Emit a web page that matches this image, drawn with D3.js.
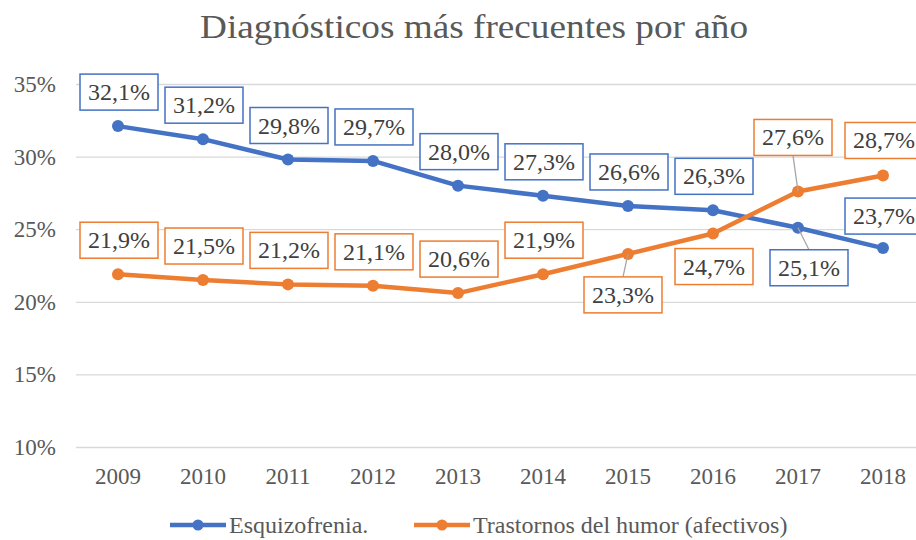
<!DOCTYPE html>
<head>
    <meta charset="UTF-8">
    <title>Diagnósticos</title>
</head>
<style>
    body { margin: 0; background: #fff; }
    .grid line { stroke: #d9d9d9; stroke-width: 1.3; }
    .grid .domain { display: none; }
</style>
<body>
<script src="https://cdnjs.cloudflare.com/ajax/libs/d3/7.8.5/d3.min.js"></script>
<script>
    // datos
    var years = ["2009", "2010", "2011", "2012", "2013", "2014", "2015", "2016", "2017", "2018"];
    var esquizofrenia = [32.1, 31.2, 29.8, 29.7, 28.0, 27.3, 26.6, 26.3, 25.1, 23.7];
    var humor = [21.9, 21.5, 21.2, 21.1, 20.6, 21.9, 23.3, 24.7, 27.6, 28.7];
    var yTicks = [10, 15, 20, 25, 30, 35];
    var seriesNames = ["Esquizofrenia.", "Trastornos del humor (afectivos)"];

    // colocación de etiquetas: [dx, dy] del centro de la caja respecto al punto
    var esqLabelPos = [[1,-34],[1,-34],[1,-34],[1,-34],[1,-34],[1,-34],[1,-34],[1,-34],[11,40],[1,-32]];
    var humLabelPos = [[1,-34],[1,-34],[1,-34],[1,-34],[1,-34],[1,-34],[-5,41],[1,33],[-5,-54],[1,-35]];

    var serif = "Liberation Serif";
    var ink = "#595959";

    var width = 916, height = 540;
    var svg = d3.select("body").append("svg")
        .attr("width", width)
        .attr("height", height);

    var x = d3.scalePoint()
        .domain(years)
        .range([118, 883]);

    var y = d3.scaleLinear()
        .domain([10, 35])
        .range([447, 84]);

    svg.append("text")
        .attr("x", 474)
        .attr("y", 38)
        .attr("text-anchor", "middle")
        .attr("font-family", serif)
        .attr("font-size", 33)
        .attr("textLength", 548)
        .attr("lengthAdjust", "spacingAndGlyphs")
        .attr("fill", ink)
        .text("Diagnósticos más frecuentes por año");

    svg.append("g")
        .attr("class", "grid")
        .attr("transform", "translate(76,0)")
        .call(d3.axisLeft(y).tickValues(yTicks).tickSize(-850).tickFormat(""));

    svg.append("g").selectAll("text")
        .data(yTicks)
        .enter().append("text")
        .attr("x", 56)
        .attr("y", function(d) { return y(d) + 8; })
        .attr("text-anchor", "end")
        .attr("font-family", serif)
        .attr("font-size", 23)
        .attr("fill", ink)
        .text(function(d) { return d + "%"; });

    svg.append("g").selectAll("text")
        .data(years)
        .enter().append("text")
        .attr("x", function(d) { return x(d); })
        .attr("y", 484)
        .attr("text-anchor", "middle")
        .attr("font-family", serif)
        .attr("font-size", 23)
        .attr("fill", ink)
        .text(function(d) { return d; });

    var line = d3.line()
        .x(function(d, i) { return x(years[i]); })
        .y(function(d) { return y(d); });

    var series = [
        {name: seriesNames[0], values: esquizofrenia, color: "#4472c4", pos: esqLabelPos},
        {name: seriesNames[1], values: humor, color: "#ed7d31", pos: humLabelPos}
    ];

    var fmt = function(v) { return v.toFixed(1).replace(".", ",") + "%"; };
    var bw = 78, bh = 36;

    series.forEach(function(s) {
        svg.append("path")
            .attr("d", line(s.values))
            .attr("fill", "none")
            .attr("stroke", s.color)
            .attr("stroke-width", 4.5)
            .attr("stroke-linejoin", "round");
        svg.append("g").selectAll("circle")
            .data(s.values)
            .enter().append("circle")
            .attr("cx", function(d, i) { return x(years[i]); })
            .attr("cy", function(d) { return y(d); })
            .attr("r", 6)
            .attr("fill", s.color);
    });

    // etiquetas de datos con líneas guía
    series.forEach(function(s) {
        var g = svg.append("g");
        s.values.forEach(function(v, i) {
            var px = x(years[i]), py = y(v);
            var cx = px + s.pos[i][0], cy = py + s.pos[i][1];
            var top = cy - bh / 2, bot = cy + bh / 2;
            var gap = s.pos[i][1] < 0 ? py - bot : top - py;
            if (gap > 19) {
                g.append("line")
                    .attr("x1", px).attr("y1", py)
                    .attr("x2", cx).attr("y2", s.pos[i][1] < 0 ? bot : top)
                    .attr("stroke", "#a6a6a6")
                    .attr("stroke-width", 1.3);
            }
            g.append("rect")
                .attr("x", cx - bw / 2)
                .attr("y", top)
                .attr("width", bw)
                .attr("height", bh)
                .attr("fill", "#fff")
                .attr("stroke", s.color)
                .attr("stroke-width", 1.5);
            g.append("text")
                .attr("x", cx)
                .attr("y", cy + 8)
                .attr("text-anchor", "middle")
                .attr("font-family", serif)
                .attr("font-size", 24)
                .attr("fill", "#404040")
                .text(fmt(v));
        });
    });

    // leyenda
    var legend = svg.append("g").attr("transform", "translate(0,525)");
    var legX = [170, 414];
    series.forEach(function(s, i) {
        legend.append("line")
            .attr("x1", legX[i]).attr("x2", legX[i] + 56)
            .attr("stroke", s.color).attr("stroke-width", 4.5);
        legend.append("circle")
            .attr("cx", legX[i] + 28).attr("r", 5.5).attr("fill", s.color);
        legend.append("text")
            .attr("x", legX[i] + 59)
            .attr("y", 8)
            .attr("font-family", serif)
            .attr("font-size", 24)
            .attr("fill", ink)
            .text(s.name);
    });
</script>
